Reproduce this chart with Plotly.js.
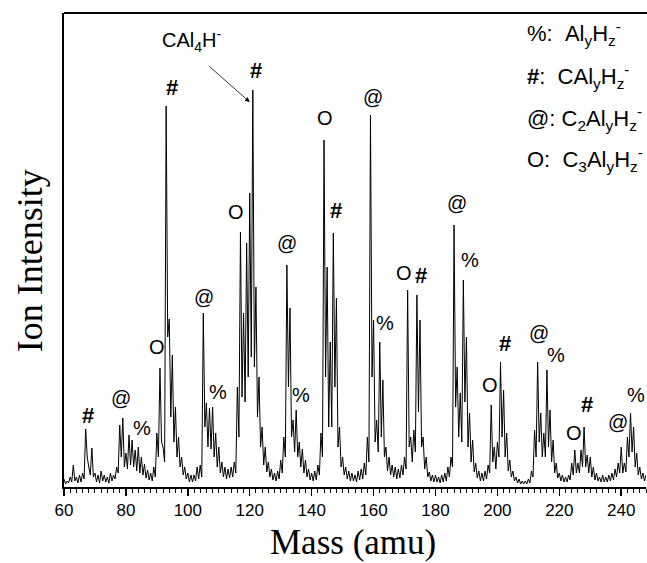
<!DOCTYPE html>
<html>
<head>
<meta charset="utf-8">
<script src="https://cdn.plot.ly/plotly-3.0.1.min.js"></script>
<style>
  html, body { margin: 0; padding: 0; background: #fff; }
  #chart { width: 647px; height: 563px; }
</style>
</head>
<body>
<div id="chart"></div>
<script>
// Mass axis sampling: start mass and step (amu)
const massStart = 60;
const massStep = 0.5;

// Ion intensity (arbitrary units), sampled every 0.5 amu from 60 to 248
const intensity = [
  8,3, 6,4, 10,5, 22,6, 10,4, 12,5, 14,8, 58,30, 20,12, 39,10,          // 60-69
  14,5, 12,4, 16,6, 12,5, 10,4, 14,6, 12,8, 20,14, 62,30, 69,20,        // 70-79
  34,18, 52,22, 47,20, 37,16, 40,14, 30,12, 23,9, 17,7, 14,6, 20,10,    // 80-89
  54,30, 119,45, 40,25, 381,150, 168,70, 132,45, 80,30, 50,20, 30,12, 20,8, // 90-99
  14,5, 12,5, 12,6, 20,8, 22,10, 174,60, 84,40, 79,38, 80,30, 54,20,    // 100-109
  40,14, 25,10, 20,8, 18,9, 20,10, 25,14, 100,50, 255,90, 174,85, 244,110, // 110-119
  294,130, 397,120, 200,70, 110,40, 60,22, 40,15, 25,10, 18,7, 14,6, 16,8, // 120-129
  27,14, 50,30, 222,100, 179,50, 67,35, 77,30, 45,20, 38,14, 27,10, 18,7,  // 130-139
  14,6, 16,7, 22,12, 54,30, 347,110, 220,60, 145,60, 254,100, 189,40, 60,20, // 140-149
  30,12, 20,8, 16,6, 14,6, 12,5, 16,7, 18,8, 24,12, 50,25, 372,110,     // 150-159
  167,45, 67,35, 145,50, 107,30, 40,16, 30,12, 22,10, 20,8, 18,9, 22,12, // 160-169
  30,18, 197,40, 50,25, 57,35, 192,75, 167,40, 50,18, 30,10, 15,6, 12,5, // 170-179
  12,5, 10,4, 12,5, 14,6, 20,10, 30,20, 262,80, 120,50, 94,45, 207,85,  // 180-189
  150,40, 74,25, 47,15, 24,9, 16,6, 14,6, 16,8, 22,14, 82,25, 40,18,    // 190-199
  45,30, 125,50, 97,30, 54,16, 27,10, 16,6, 10,4, 8,3, 6,3, 6,3,        // 200-209
  8,4, 16,10, 57,30, 125,45, 74,30, 54,30, 117,40, 77,25, 47,14, 24,9,  // 210-219
  14,6, 12,5, 10,5, 12,7, 24,12, 37,14, 24,14, 37,20, 60,20, 32,14,     // 220-229
  30,10, 20,7, 14,6, 10,5, 12,5, 10,5, 12,6, 14,7, 18,10, 24,14,        // 230-239
  40,14, 24,15, 50,30, 74,35, 60,20, 34,12, 20,8, 14,6, 12              // 240-248
];

// X tick labels
const tickVals = [60, 80, 100, 120, 140, 160, 180, 200, 220, 240];
const tickText = ['60', '80', '100', '120', '140', '160', '180', '200', '220', '240'];

// Peak-family labels: symbol, mass, intensity where the label sits
const labelText = ['#','@','%','O','#','@','%','O','#','@','%','O','#','@','%','O','#','@','%','O','#','@','%','O','#','@','%'];
const labelMass = [67.8,78.3,85.1,89.9,94.8,105.2,109.6,115.7,121.9,131.9,136.7,144.2,148.0,159.8,163.6,169.7,175.2,186.8,191.1,197.5,202.6,213.3,218.8,224.9,229.0,238.9,244.9];
const labelInt  = [72,89,59,140,400,190,95,275,417,244,92,369,277,390,164,214,212,284,227,102,144,154,132,54,83,65,92];

// Legend of ion families
const legendLines = [
  '%:\u00a0\u00a0Al<sub>y</sub>H<sub>z</sub><sup>-</sup>',
  '<b>#</b>:\u00a0\u00a0CAl<sub>y</sub>H<sub>z</sub><sup>-</sup>',
  '@:\u00a0C<sub>2</sub>Al<sub>y</sub>H<sub>z</sub><sup>-</sup>',
  'O:\u00a0\u00a0C<sub>3</sub>Al<sub>y</sub>H<sub>z</sub><sup>-</sup>'
];

const mass = intensity.map((_, i) => massStart + i * massStep);

const trace = {
  x: mass,
  y: intensity,
  type: 'scatter',
  mode: 'lines',
  line: { color: '#000', width: 1 },
  hoverinfo: 'skip'
};

const sans = 'Liberation Sans, Arial, sans-serif';
const serif = 'Liberation Serif, Times New Roman, serif';

const annotations = [];
labelText.forEach((t, i) => {
  annotations.push({
    x: labelMass[i], y: labelInt[i], xref: 'x', yref: 'y',
    text: t === '#' ? '<b>#</b>' : t,
    showarrow: false,
    xanchor: 'center', yanchor: 'middle',
    font: { family: sans, size: t === '#' ? 22 : 20, color: '#000' }
  });
});
const legendY = [0.956, 0.867, 0.778, 0.690];
legendLines.forEach((t, i) => {
  annotations.push({
    x: 0.792, y: legendY[i], xref: 'paper', yref: 'paper',
    text: t, showarrow: false, xanchor: 'left', yanchor: 'middle',
    font: { family: sans, size: 22, color: '#000' }
  });
});
// CAl4H- label with arrow
annotations.push({
  x: 101.3, y: 447, xref: 'x', yref: 'y',
  text: 'CAl<sub>4</sub>H<sup>-</sup>', showarrow: false,
  xanchor: 'center', yanchor: 'middle',
  font: { family: sans, size: 20, color: '#000' }
});
annotations.push({
  x: 120.0, y: 385, xref: 'x', yref: 'y',
  text: '', showarrow: true, arrowhead: 2, arrowsize: 1.2, arrowwidth: 0.8,
  arrowcolor: '#000', ax: -42, ay: -37, standoff: 0
});
// axis titles
annotations.push({
  x: 0.497, y: -0.118, xref: 'paper', yref: 'paper',
  text: 'Mass (amu)', showarrow: false, xanchor: 'center', yanchor: 'middle',
  font: { family: serif, size: 35, color: '#000' }
});
annotations.push({
  x: -0.058, y: 0.477, xref: 'paper', yref: 'paper',
  text: 'Ion Intensity', showarrow: false, textangle: -90,
  xanchor: 'center', yanchor: 'middle',
  font: { family: serif, size: 36, color: '#000' }
});

const layout = {
  width: 647, height: 563,
  margin: { l: 64, r: 1, t: 13, b: 76 },
  paper_bgcolor: '#fff', plot_bgcolor: '#fff',
  showlegend: false,
  xaxis: {
    range: [60, 248],
    showgrid: false, zeroline: false,
    showline: true, linecolor: '#000', linewidth: 2,
    ticks: 'outside', ticklen: 7, tickwidth: 1.5, tickcolor: '#000',
    tickvals: tickVals, ticktext: tickText,
    tickfont: { family: sans, size: 17, color: '#000' },
    minor: { dtick: 2, ticks: 'outside', ticklen: 4, tickwidth: 1, tickcolor: '#000', showgrid: false },
    fixedrange: true
  },
  yaxis: {
    range: [0, 474],
    showgrid: false, zeroline: false,
    showline: true, linecolor: '#000', linewidth: 2,
    ticks: '', showticklabels: false,
    fixedrange: true
  },
  shapes: [{
    type: 'line', xref: 'paper', yref: 'paper', x0: 0, x1: 1.01, y0: 1, y1: 1,
    line: { color: '#000', width: 2 }
  }],
  annotations: annotations
};

Plotly.newPlot('chart', [trace], layout, { staticPlot: true, displayModeBar: false });
</script>
</body>
</html>
